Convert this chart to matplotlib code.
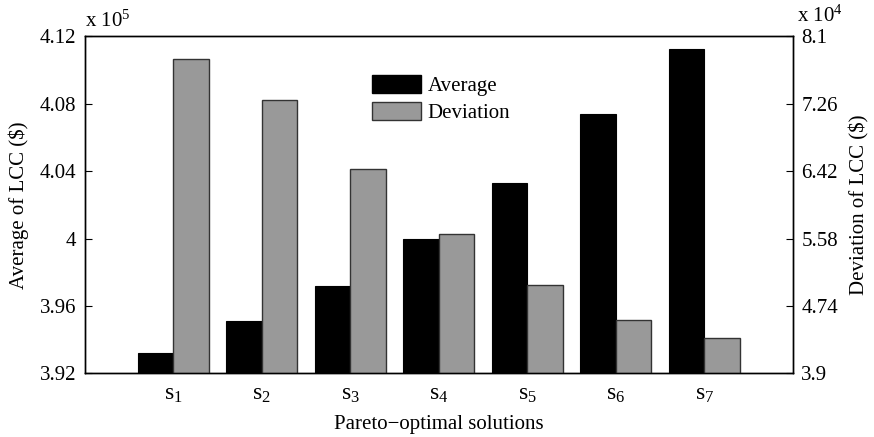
"""Average and deviation of life-cycle cost for the Pareto-optimal solutions."""

import matplotlib

matplotlib.use("Agg")
import matplotlib.pyplot as plt
import numpy as np
from matplotlib.patches import Patch

plt.rcParams["font.family"] = ["Liberation Serif", "DejaVu Serif"]
plt.rcParams["mathtext.fontset"] = "custom"
plt.rcParams["mathtext.rm"] = "Liberation Serif"
plt.rcParams["mathtext.it"] = "Liberation Serif"

solutions = ["1", "2", "3", "4", "5", "6", "7"]
# average LCC, units of 1e5 $
average_lcc = [3.932, 3.951, 3.972, 3.9995, 4.033, 4.0737, 4.1125]
# deviation of LCC, units of 1e4 $
deviation_lcc = [7.82, 7.31, 6.45, 5.64, 5.00, 4.56, 4.34]

left_ticks = [3.92, 3.96, 4.00, 4.04, 4.08, 4.12]
left_labels = ["3.92", "3.96", "4", "4.04", "4.08", "4.12"]
right_ticks = [3.9, 4.74, 5.58, 6.42, 7.26, 8.1]
right_labels = ["3.9", "4.74", "5.58", "6.42", "7.26", "8.1"]


def main() -> None:
    fig = plt.figure(figsize=(8.74, 4.37), dpi=100)
    ax = fig.add_axes([0.0969, 0.1458, 0.8104, 0.7707])
    ax2 = ax.twinx()

    x = np.arange(1, len(solutions) + 1)
    width = 0.4
    ax.bar(x - width / 2, np.array(average_lcc) - left_ticks[0], width,
           bottom=left_ticks[0], color="black", edgecolor="black", linewidth=0.8)
    ax2.bar(x + width / 2, np.array(deviation_lcc) - right_ticks[0], width,
            bottom=right_ticks[0], color="#999999", edgecolor="#333333", linewidth=1.0)

    ax.set_xlim(0, 8)
    ax.set_ylim(left_ticks[0], left_ticks[-1])
    ax2.set_ylim(right_ticks[0], right_ticks[-1])

    ax.set_yticks(left_ticks)
    ax.set_yticklabels(left_labels)
    ax2.set_yticks(right_ticks)
    ax2.set_yticklabels(right_labels)
    ax.set_xticks(x)
    ax.set_xticklabels([r"$\mathrm{s}_{%s}$" % s for s in solutions])

    ax.tick_params(axis="y", direction="in", length=5, labelsize=15, pad=6)
    ax2.tick_params(axis="y", direction="in", length=5, labelsize=15, pad=6)
    ax.tick_params(axis="x", length=0, labelsize=17, pad=8)

    ax.set_ylabel(r"Average of LCC (\$)", fontsize=15, labelpad=8)
    ax2.set_ylabel(r"Deviation of LCC (\$)", fontsize=15, labelpad=8)
    ax.set_xlabel("Pareto\u2212optimal solutions", fontsize=15, labelpad=7)

    ax.text(0.0, 1.015, r"x 10$^{5}$", transform=ax.transAxes,
            fontsize=15, ha="left", va="bottom")
    ax2.text(1.005, 1.03, r"x 10$^{4}$", transform=ax2.transAxes,
             fontsize=15, ha="left", va="bottom")

    for spine in list(ax.spines.values()) + list(ax2.spines.values()):
        spine.set_linewidth(1.0)

    handles = [
        Patch(facecolor="black", edgecolor="black", label="Average"),
        Patch(facecolor="#999999", edgecolor="#333333", label="Deviation"),
    ]
    ax.legend(handles=handles, loc="upper left", bbox_to_anchor=(0.406, 0.886),
              frameon=False, fontsize=15, handlelength=2.35, handleheight=0.95,
              handletextpad=0.3, labelspacing=0.3, borderpad=0.0, borderaxespad=0.0)

    fig.savefig("out.png", dpi=100)


if __name__ == "__main__":
    main()
